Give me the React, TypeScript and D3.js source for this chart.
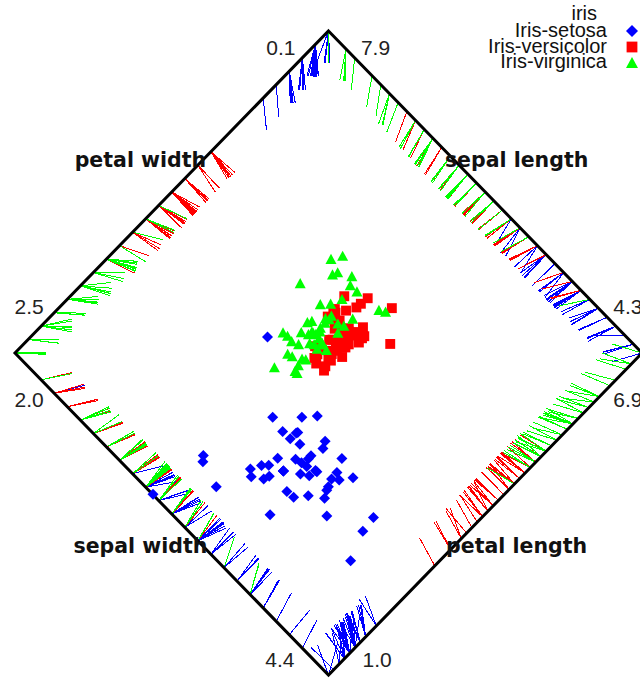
import React from "react";
import * as d3 from "d3";

// Fisher's iris measurements: [sepal length, sepal width, petal length, petal width]
const setosaRows: number[][] = [
  [5.1, 3.5, 1.4, 0.2], [4.9, 3.0, 1.4, 0.2], [4.7, 3.2, 1.3, 0.2], [4.6, 3.1, 1.5, 0.2], [5.0, 3.6, 1.4, 0.2],
  [5.4, 3.9, 1.7, 0.4], [4.6, 3.4, 1.4, 0.3], [5.0, 3.4, 1.5, 0.2], [4.4, 2.9, 1.4, 0.2], [4.9, 3.1, 1.5, 0.1],
  [5.4, 3.7, 1.5, 0.2], [4.8, 3.4, 1.6, 0.2], [4.8, 3.0, 1.4, 0.1], [4.3, 3.0, 1.1, 0.1], [5.8, 4.0, 1.2, 0.2],
  [5.7, 4.4, 1.5, 0.4], [5.4, 3.9, 1.3, 0.4], [5.1, 3.5, 1.4, 0.3], [5.7, 3.8, 1.7, 0.3], [5.1, 3.8, 1.5, 0.3],
  [5.4, 3.4, 1.7, 0.2], [5.1, 3.7, 1.5, 0.4], [4.6, 3.6, 1.0, 0.2], [5.1, 3.3, 1.7, 0.5], [4.8, 3.4, 1.9, 0.2],
  [5.0, 3.0, 1.6, 0.2], [5.0, 3.4, 1.6, 0.4], [5.2, 3.5, 1.5, 0.2], [5.2, 3.4, 1.4, 0.2], [4.7, 3.2, 1.6, 0.2],
  [4.8, 3.1, 1.6, 0.2], [5.4, 3.4, 1.5, 0.4], [5.2, 4.1, 1.5, 0.1], [5.5, 4.2, 1.4, 0.2], [4.9, 3.1, 1.5, 0.1],
  [5.0, 3.2, 1.2, 0.2], [5.5, 3.5, 1.3, 0.2], [4.9, 3.1, 1.5, 0.1], [4.4, 3.0, 1.3, 0.2], [5.1, 3.4, 1.5, 0.2],
  [5.0, 3.5, 1.3, 0.3], [4.5, 2.3, 1.3, 0.3], [4.4, 3.2, 1.3, 0.2], [5.0, 3.5, 1.6, 0.6], [5.1, 3.8, 1.9, 0.4],
  [4.8, 3.0, 1.4, 0.3], [5.1, 3.8, 1.6, 0.2], [4.6, 3.2, 1.4, 0.2], [5.3, 3.7, 1.5, 0.2], [5.0, 3.3, 1.4, 0.2],
];

const versicolorRows: number[][] = [
  [7.0, 3.2, 4.7, 1.4], [6.4, 3.2, 4.5, 1.5], [6.9, 3.1, 4.9, 1.5], [5.5, 2.3, 4.0, 1.3], [6.5, 2.8, 4.6, 1.5],
  [5.7, 2.8, 4.5, 1.3], [6.3, 3.3, 4.7, 1.6], [4.9, 2.4, 3.3, 1.0], [6.6, 2.9, 4.6, 1.3], [5.2, 2.7, 3.9, 1.4],
  [5.0, 2.0, 3.5, 1.0], [5.9, 3.0, 4.2, 1.5], [6.0, 2.2, 4.0, 1.0], [6.1, 2.9, 4.7, 1.4], [5.6, 2.9, 3.6, 1.3],
  [6.7, 3.1, 4.4, 1.4], [5.6, 3.0, 4.5, 1.5], [5.8, 2.7, 4.1, 1.0], [6.2, 2.2, 4.5, 1.5], [5.6, 2.5, 3.9, 1.1],
  [5.9, 3.2, 4.8, 1.8], [6.1, 2.8, 4.0, 1.3], [6.3, 2.5, 4.9, 1.5], [6.1, 2.8, 4.7, 1.2], [6.4, 2.9, 4.3, 1.3],
  [6.6, 3.0, 4.4, 1.4], [6.8, 2.8, 4.8, 1.4], [6.7, 3.0, 5.0, 1.7], [6.0, 2.9, 4.5, 1.5], [5.7, 2.6, 3.5, 1.0],
  [5.5, 2.4, 3.8, 1.1], [5.5, 2.4, 3.7, 1.0], [5.8, 2.7, 3.9, 1.2], [6.0, 2.7, 5.1, 1.6], [5.4, 3.0, 4.5, 1.5],
  [6.0, 3.4, 4.5, 1.6], [6.7, 3.1, 4.7, 1.5], [6.3, 2.3, 4.4, 1.3], [5.6, 3.0, 4.1, 1.3], [5.5, 2.5, 4.0, 1.3],
  [5.5, 2.6, 4.4, 1.2], [6.1, 3.0, 4.6, 1.4], [5.8, 2.6, 4.0, 1.2], [5.0, 2.3, 3.3, 1.0], [5.6, 2.7, 4.2, 1.3],
  [5.7, 3.0, 4.2, 1.2], [5.7, 2.9, 4.2, 1.3], [6.2, 2.9, 4.3, 1.3], [5.1, 2.5, 3.0, 1.1], [5.7, 2.8, 4.1, 1.3],
];

const virginicaRows: number[][] = [
  [6.3, 3.3, 6.0, 2.5], [5.8, 2.7, 5.1, 1.9], [7.1, 3.0, 5.9, 2.1], [6.3, 2.9, 5.6, 1.8], [6.5, 3.0, 5.8, 2.2],
  [7.6, 3.0, 6.6, 2.1], [4.9, 2.5, 4.5, 1.7], [7.3, 2.9, 6.3, 1.8], [6.7, 2.5, 5.8, 1.8], [7.2, 3.6, 6.1, 2.5],
  [6.5, 3.2, 5.1, 2.0], [6.4, 2.7, 5.3, 1.9], [6.8, 3.0, 5.5, 2.1], [5.7, 2.5, 5.0, 2.0], [5.8, 2.8, 5.1, 2.4],
  [6.4, 3.2, 5.3, 2.3], [6.5, 3.0, 5.5, 1.8], [7.7, 3.8, 6.7, 2.2], [7.7, 2.6, 6.9, 2.3], [6.0, 2.2, 5.0, 1.5],
  [6.9, 3.2, 5.7, 2.3], [5.6, 2.8, 4.9, 2.0], [7.7, 2.8, 6.7, 2.0], [6.3, 2.7, 4.9, 1.8], [6.7, 3.3, 5.7, 2.1],
  [7.2, 3.2, 6.0, 1.8], [6.2, 2.8, 4.8, 1.8], [6.1, 3.0, 4.9, 1.8], [6.4, 2.8, 5.6, 2.1], [7.2, 3.0, 5.8, 1.6],
  [7.4, 2.8, 6.1, 1.9], [7.9, 3.8, 6.4, 2.0], [6.4, 2.8, 5.6, 2.2], [6.3, 2.8, 5.1, 1.5], [6.1, 2.6, 5.6, 1.4],
  [7.7, 3.0, 6.1, 2.3], [6.3, 3.4, 5.6, 2.4], [6.4, 3.1, 5.5, 1.8], [6.0, 3.0, 4.8, 1.8], [6.9, 3.1, 5.4, 2.1],
  [6.7, 3.1, 5.6, 2.4], [6.9, 3.1, 5.1, 2.3], [5.8, 2.7, 5.1, 1.9], [6.8, 3.2, 5.9, 2.3], [6.7, 3.3, 5.7, 2.5],
  [6.7, 3.0, 5.2, 2.3], [6.3, 2.5, 5.0, 1.9], [6.5, 3.0, 5.2, 2.0], [6.2, 3.4, 5.4, 2.3], [5.9, 3.0, 5.1, 1.8],
];

const attributes = ["sepal length", "sepal width", "petal length", "petal width"];
const classNames = ["Iris-setosa", "Iris-versicolor", "Iris-virginica"];
const classColors = ["#0000ff", "#ff0000", "#00ff00"];
const classSymbols = ["diamond", "square", "triangle"];

// Polygon vertices in projection space; each attribute runs along one edge,
// from the vertex holding its maximum to the vertex holding its minimum.
const TOP: [number, number] = [0, 1];
const RIGHT: [number, number] = [1, 0];
const BOTTOM: [number, number] = [0, -1];
const LEFT: [number, number] = [-1, 0];

const edges = [
  { attr: 0, maxAt: TOP, minAt: RIGHT, label: [0.6, 0.6], maxLabel: [0.15, 0.95], minLabel: [0.955, 0.145] },
  { attr: 2, maxAt: RIGHT, minAt: BOTTOM, label: [0.6, -0.6], maxLabel: [0.955, -0.145], minLabel: [0.155, -0.953] },
  { attr: 1, maxAt: BOTTOM, minAt: LEFT, label: [-0.6, -0.6], maxLabel: [-0.155, -0.953], minLabel: [-0.955, -0.145] },
  { attr: 3, maxAt: LEFT, minAt: TOP, label: [-0.6, 0.6], maxLabel: [-0.955, 0.145], minLabel: [-0.152, 0.95] },
];

const LINE_LENGTH = 0.1;

const W = 640;
const H = 680;

function symbolPath(kind: string, cx: number, cy: number, r: number): string {
  const p = d3.path();
  if (kind === "diamond") {
    p.moveTo(cx, cy - r);
    p.lineTo(cx + r, cy);
    p.lineTo(cx, cy + r);
    p.lineTo(cx - r, cy);
  } else if (kind === "square") {
    const s = r * 0.9;
    p.rect(cx - s, cy - s, 2 * s, 2 * s);
  } else {
    p.moveTo(cx, cy - r);
    p.lineTo(cx + r, cy + r * 0.85);
    p.lineTo(cx - r, cy + r * 0.85);
  }
  p.closePath();
  return p.toString();
}

export default function App() {
  const x = d3.scaleLinear().domain([-1, 1]).range([15, 642]);
  const y = d3.scaleLinear().domain([-1, 1]).range([675, 31]);

  const rows = [setosaRows, versicolorRows, virginicaRows].flatMap((group, ci) =>
    group.map((v) => ({ v, ci }))
  );

  const extents = attributes.map((_, ai) => d3.extent(rows, (r) => r.v[ai]) as [number, number]);

  // Anchor points on each edge, weighted to give the example's position
  const projected = rows.map((r) => {
    const anchors = edges.map((e) => {
      const [lo, hi] = extents[e.attr];
      const n = (r.v[e.attr] - lo) / (hi - lo);
      const ax = e.minAt[0] + n * (e.maxAt[0] - e.minAt[0]);
      const ay = e.minAt[1] + n * (e.maxAt[1] - e.minAt[1]);
      return { ax, ay, n };
    });
    const total = d3.sum(anchors, (a) => a.n);
    const px = d3.sum(anchors, (a) => a.n * a.ax) / total;
    const py = d3.sum(anchors, (a) => a.n * a.ay) / total;
    return { ...r, anchors, px, py };
  });

  const polygon = [TOP, RIGHT, BOTTOM, LEFT];
  const polyPath =
    "M" + polygon.map((p) => `${x(p[0])},${y(p[1])}`).join("L") + "Z";

  const fmt = d3.format(".1f");

  return (
    <svg
      width={W}
      height={H}
      style={{ position: "absolute", left: 0, top: 0, background: "#fff" }}
    >
      <rect x={0} y={0} width={W} height={H} fill="#fff" />
      <g shapeRendering="crispEdges">
        {projected.map((d, i) =>
          d.anchors.map((a, j) => {
            const dx = d.px - a.ax;
            const dy = d.py - a.ay;
            const len = Math.hypot(dx, dy) || 1;
            const k = LINE_LENGTH / len;
            return (
              <line
                key={`l${i}-${j}`}
                x1={x(a.ax)}
                y1={y(a.ay)}
                x2={x(a.ax + dx * k)}
                y2={y(a.ay + dy * k)}
                stroke={classColors[d.ci]}
                strokeWidth={1}
              />
            );
          })
        )}
      </g>
      <path d={polyPath} fill="none" stroke="#000" strokeWidth={3} />
      <g>
        {projected.map((d, i) => (
          <path
            key={`p${i}`}
            d={symbolPath(classSymbols[d.ci], x(d.px), y(d.py), 5.5)}
            fill={classColors[d.ci]}
          />
        ))}
      </g>
      <g fontFamily="'DejaVu Sans', sans-serif" fontWeight="bold" fontSize={20.5} fill="#111">
        {edges.map((e) => (
          <text
            key={`a${e.attr}`}
            x={x(e.label[0])}
            y={y(e.label[1])}
            textAnchor="middle"
            dominantBaseline="central"
          >
            {attributes[e.attr]}
          </text>
        ))}
      </g>
      <g fontFamily="'Liberation Sans', Arial, sans-serif" fontSize={21} fill="#222">
        {edges.map((e) => (
          <React.Fragment key={`t${e.attr}`}>
            <text x={x(e.maxLabel[0])} y={y(e.maxLabel[1])} textAnchor="middle" dominantBaseline="central">
              {fmt(extents[e.attr][1])}
            </text>
            <text x={x(e.minLabel[0])} y={y(e.minLabel[1])} textAnchor="middle" dominantBaseline="central">
              {fmt(extents[e.attr][0])}
            </text>
          </React.Fragment>
        ))}
      </g>
      <g fontFamily="'Liberation Sans', Arial, sans-serif" fontSize={20} fill="#111">
        <text x={597} y={20} textAnchor="end">iris</text>
        {classNames.map((name, ci) => (
          <g key={name}>
            <text x={607} y={37 + ci * 15.5} textAnchor="end">{name}</text>
            <path d={symbolPath(classSymbols[ci], 632, 31 + ci * 16, 6)} fill={classColors[ci]} />
          </g>
        ))}
      </g>
    </svg>
  );
}
